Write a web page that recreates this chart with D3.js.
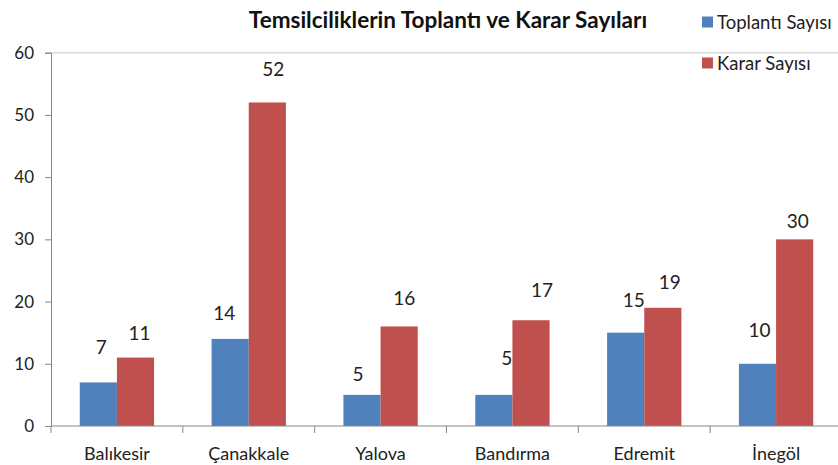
<!DOCTYPE html>
<html lang="tr">
<head>
<meta charset="UTF-8">
<title>Temsilciliklerin Toplantı ve Karar Sayıları</title>
<script src="https://cdnjs.cloudflare.com/ajax/libs/d3/7.8.5/d3.min.js"></script>
<style>
  html, body { margin: 0; padding: 0; background: #fff; }
  svg { display: block; font-family: Lato, "Open Sans", sans-serif; }
  .lbl { fill: #222; }
</style>
</head>
<body>
<svg id="chart" width="838" height="465"></svg>
<script>
// veriler
const categories = ["Balıkesir", "Çanakkale", "Yalova", "Bandırma", "Edremit", "İnegöl"];
const seriesNames = ["Toplantı Sayısı", "Karar Sayısı"];
const toplanti = [7, 14, 5, 5, 15, 10];
const karar = [11, 52, 16, 17, 19, 30];
const yTicks = [0, 10, 20, 30, 40, 50, 60];

// etiket kaydırmaları (orijinal grafikte elle yerleştirilmiş)
const nudgeBlue = [[3, -36], [-6, -26], [-4, -21], [13, -37], [8, -33], [2, -34]];
const nudgeRed = [[4, -25], [6, -34], [5, -29], [11, -31], [7, -26], [3, -19]];

const colors = ["#4F81BD", "#C0504D"];

const svg = d3.select("#chart");
const plotLeft = 51, plotRight = 842, plotTop = 52.7, plotBottom = 426;

const x0 = d3.scaleBand().domain(categories).range([plotLeft, plotRight]);
const x1 = d3.scaleBand().domain(seriesNames).range([0, x0.bandwidth()])
    .paddingInner(0).paddingOuter(0.774);
const y = d3.scaleLinear().domain([0, 60]).range([plotBottom, plotTop]);

// üst çizgi (60)
svg.append("line")
    .attr("x1", plotLeft).attr("x2", 838)
    .attr("y1", y(60)).attr("y2", y(60))
    .attr("stroke", "#d9d9d9").attr("stroke-width", 1.5);

// y ekseni
const yAxis = svg.append("g")
    .attr("transform", `translate(${plotLeft},0)`)
    .call(d3.axisLeft(y).tickValues(yTicks).tickSize(6).tickPadding(11));
yAxis.select(".domain").attr("stroke", "#888");
yAxis.selectAll(".tick line").attr("stroke", "#888");
yAxis.selectAll(".tick text")
    .attr("fill", "#222").style("font-size", "17px").style("font-family", "Lato, sans-serif");

// barlar
const rows = categories.map((c, i) => ({ cat: c, vals: [toplanti[i], karar[i]], i }));

const groups = svg.selectAll("g.grp")
    .data(rows)
    .join("g")
    .attr("class", "grp")
    .attr("transform", d => `translate(${x0(d.cat)},0)`);

groups.selectAll("rect")
    .data(d => d.vals.map((v, k) => ({ v, k, i: d.i })))
    .join("rect")
    .attr("x", d => x1(seriesNames[d.k]))
    .attr("width", x1.bandwidth())
    .attr("y", d => y(d.v))
    .attr("height", d => plotBottom - y(d.v))
    .attr("fill", d => colors[d.k]);

groups.selectAll("text.val")
    .data(d => d.vals.map((v, k) => ({ v, k, i: d.i })))
    .join("text")
    .attr("class", "val lbl")
    .attr("text-anchor", "middle")
    .attr("dominant-baseline", "central")
    .style("font-size", "19px")
    .attr("x", d => x1(seriesNames[d.k]) + x1.bandwidth() / 2 + (d.k === 0 ? nudgeBlue : nudgeRed)[d.i][0])
    .attr("y", d => y(d.v) + (d.k === 0 ? nudgeBlue : nudgeRed)[d.i][1])
    .text(d => d.v);

// x ekseni
const xAxis = svg.append("g");
xAxis.append("line")
    .attr("x1", plotLeft).attr("x2", 838)
    .attr("y1", plotBottom).attr("y2", plotBottom)
    .attr("stroke", "#888");
const bounds = categories.map(c => x0(c)).concat([x0(categories[categories.length - 1]) + x0.bandwidth()]);
xAxis.selectAll("line.tk")
    .data(bounds)
    .join("line")
    .attr("class", "tk")
    .attr("x1", d => d).attr("x2", d => d)
    .attr("y1", plotBottom).attr("y2", plotBottom + 7)
    .attr("stroke", "#888");
xAxis.selectAll("text")
    .data(categories)
    .join("text")
    .attr("class", "lbl")
    .attr("x", d => x0(d) + x0.bandwidth() / 2)
    .attr("y", 453)
    .attr("text-anchor", "middle")
    .attr("dominant-baseline", "central")
    .style("font-size", "18px")
    .text(d => d);

// başlık
svg.append("text")
    .attr("x", 448).attr("y", 19)
    .attr("text-anchor", "middle")
    .attr("dominant-baseline", "central")
    .style("font-size", "22.5px").style("font-weight", "bold")
    .attr("fill", "#111")
    .text("Temsilciliklerin Toplantı ve Karar Sayıları");

// lejant
const legend = svg.append("g");
seriesNames.forEach((s, k) => {
    const ly = 22 + k * 41;
    legend.append("rect")
        .attr("x", 702).attr("y", ly - 5.5)
        .attr("width", 11).attr("height", 11)
        .attr("fill", colors[k]);
    legend.append("text")
        .attr("class", "lbl")
        .attr("x", 717).attr("y", ly)
        .attr("dominant-baseline", "central")
        .style("font-size", "18.5px")
        .text(s);
});
</script>
</body>
</html>
